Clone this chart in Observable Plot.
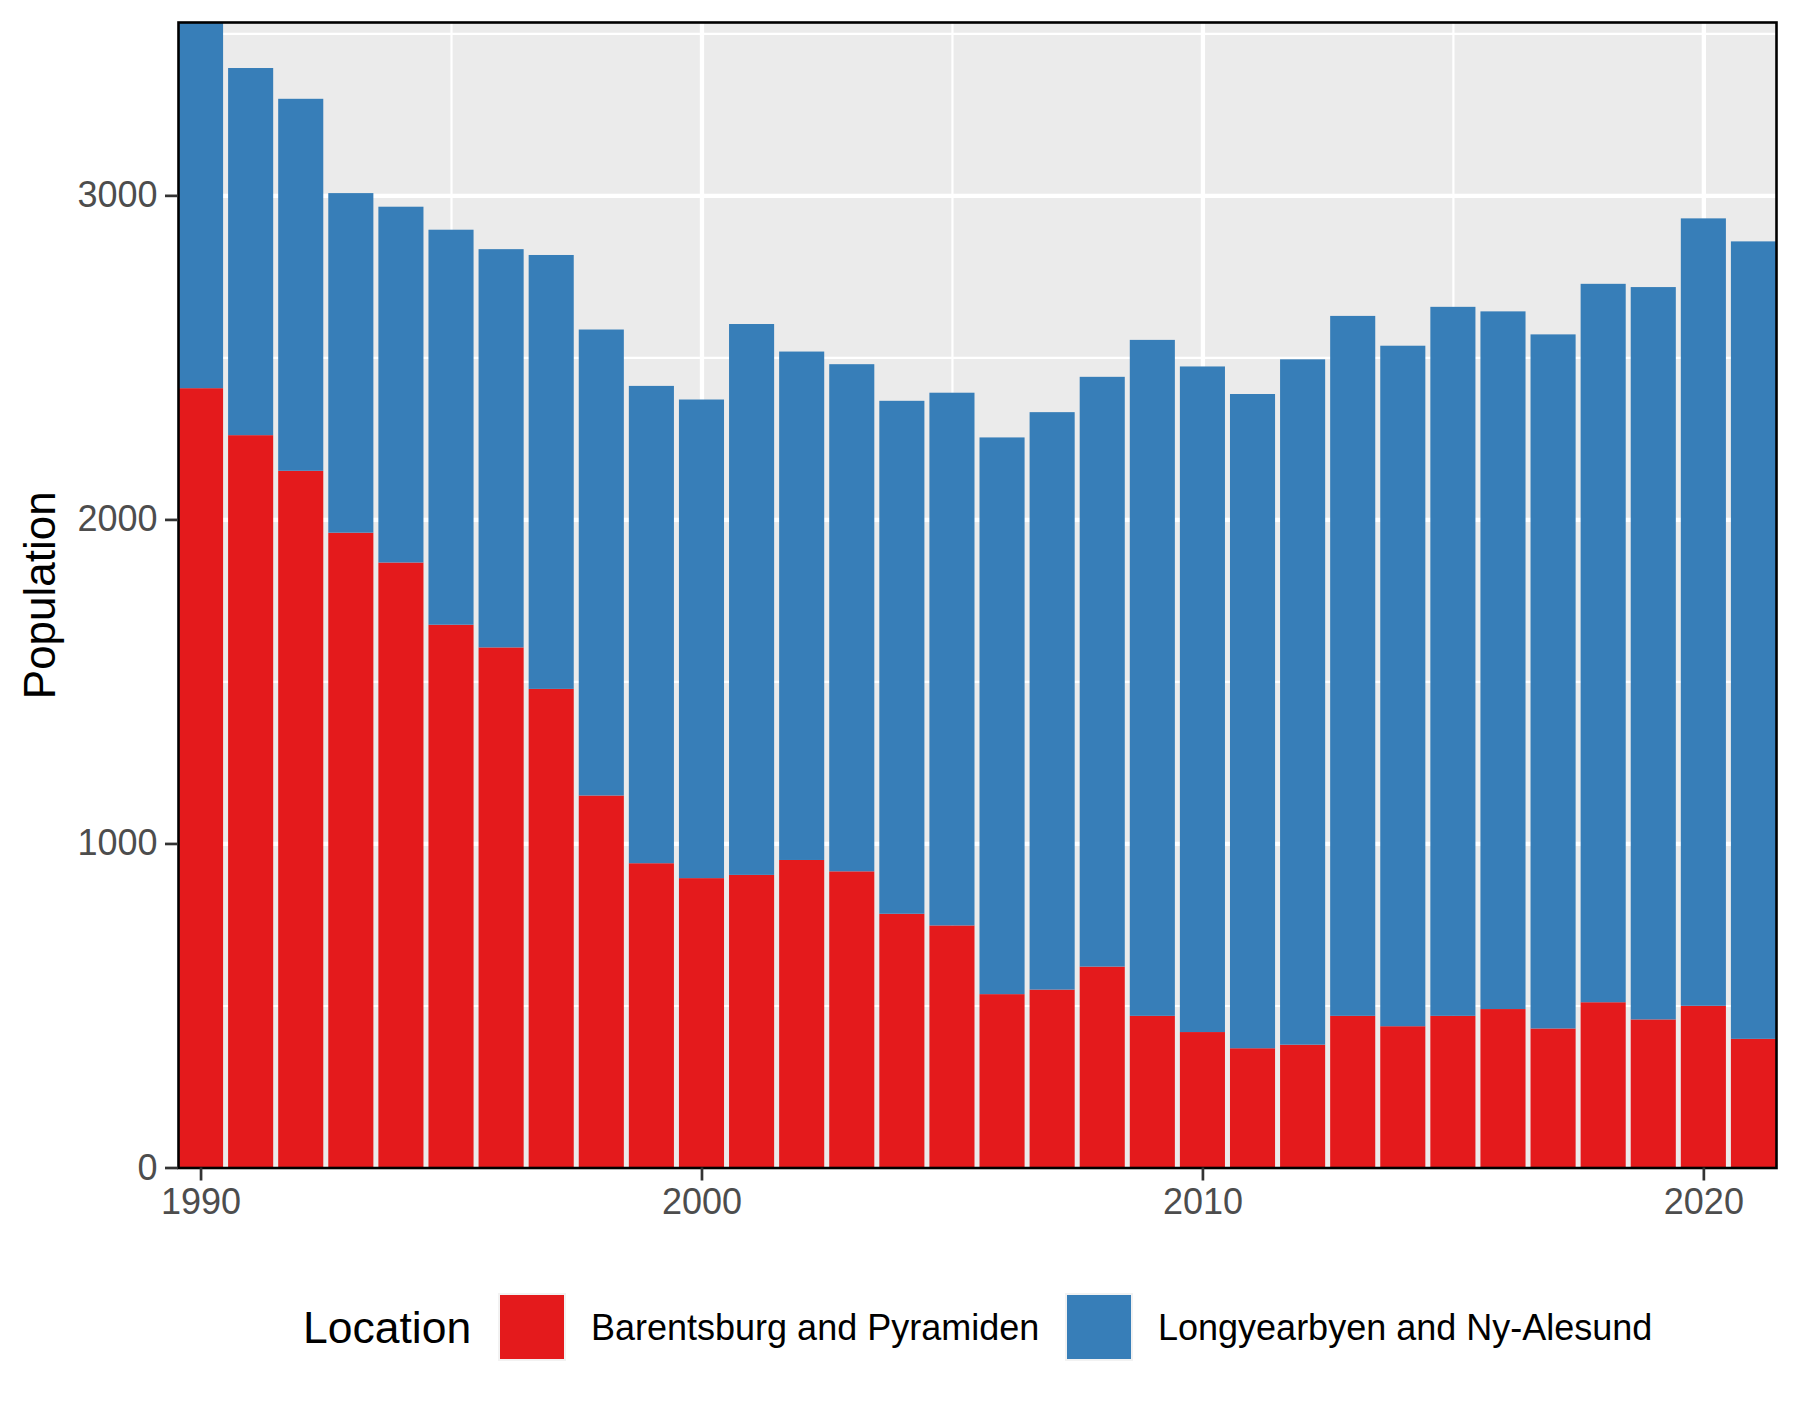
<!DOCTYPE html>
<html>
<head>
<meta charset="utf-8">
<script src="https://cdn.jsdelivr.net/npm/d3@7"></script>
<script src="https://cdn.jsdelivr.net/npm/@observablehq/plot@0.6"></script>
<style>
  body { margin: 0; background: #ffffff; }
  #wrap { width: 1800px; height: 1409px; position: relative; font-family: "Liberation Sans", Arial, sans-serif; }
  svg { display: block; }
</style>
</head>
<body>
<div id="wrap"></div>
<script>
const years = [1990,1991,1992,1993,1994,1995,1996,1997,1998,1999,2000,2001,2002,2003,2004,2005,2006,2007,2008,2009,2010,2011,2012,2013,2014,2015,2016,2017,2018,2019,2020,2021];
const barentsburgPyramiden = [2405,2260,2150,1959,1867,1675,1605,1477,1148,939,893,903,949,914,783,747,535,549,620,468,418,368,379,468,436,468,489,429,510,457,499,397];
const longyearbyenNyAlesund = [1130,1133,1148,1048,1098,1219,1229,1339,1438,1473,1477,1700,1569,1565,1583,1644,1718,1782,1820,2086,2054,2019,2115,2160,2100,2188,2153,2142,2217,2260,2430,2461];
const locations = ["Barentsburg and Pyramiden", "Longyearbyen and Ny-Alesund"];
const colors = ["#E41A1C", "#377EB8"];
const yTicks = [0, 1000, 2000, 3000];
const yMinor = [500, 1500, 2500, 3500];
const xTicks = [1990, 2000, 2010, 2020];
const xMinor = [1995, 2005, 2015];

const data = [];
years.forEach((y, i) => {
  data.push({year: y, loc: locations[0], value: barentsburgPyramiden[i]});
  data.push({year: y, loc: locations[1], value: longyearbyenNyAlesund[i]});
});

const W = 1800, H = 1240;
const chart = Plot.plot({
  width: W,
  height: H,
  marginLeft: 178,
  marginRight: 24,
  marginTop: 22,
  marginBottom: H - 1167.5,
  style: {fontFamily: '"Liberation Sans", Arial, sans-serif', background: "#ffffff", overflow: "visible"},
  x: {domain: [1989.55, 2021.45], axis: null},
  y: {domain: [0, 3535], axis: null},
  color: {domain: locations, range: colors},
  marks: [
    Plot.frame({fill: "#EBEBEB"}),
    Plot.ruleY(yMinor, {stroke: "#ffffff", strokeWidth: 2.2}),
    Plot.ruleX(xMinor, {stroke: "#ffffff", strokeWidth: 2.2}),
    Plot.ruleY(yTicks, {stroke: "#ffffff", strokeWidth: 4.3}),
    Plot.ruleX(xTicks, {stroke: "#ffffff", strokeWidth: 4.3}),
    Plot.rectY(data, {
      x1: d => d.year - 0.45,
      x2: d => d.year + 0.45,
      y: "value",
      fill: "loc",
      order: locations,
      clip: true
    }),
    Plot.frame({stroke: "#000000", strokeWidth: 2.6}),
    Plot.axisY(yTicks, {
      tickSize: 13, tickPadding: 8, fontSize: 36,
      fill: "#4D4D4D", stroke: "#333333", strokeWidth: 2.7,
      label: null, tickFormat: d => String(d)
    }),
    Plot.axisX(xTicks, {
      tickSize: 13, tickPadding: 7, fontSize: 36,
      fill: "#4D4D4D", stroke: "#333333", strokeWidth: 2.7,
      label: null, tickFormat: d => String(d)
    }),
    Plot.text(["Population"], {
      frameAnchor: "left", textAnchor: "middle", dx: -138, rotate: -90,
      fontSize: 44, fill: "#000000"
    })
  ]
});
document.getElementById("wrap").appendChild(chart);

// Legend (below the plot SVG)
const legH = 1409 - H;
const off = H;
const leg = d3.create("svg").attr("width", W).attr("height", legH)
  .style("font-family", '"Liberation Sans", Arial, sans-serif');
leg.append("text").attr("x", 303).attr("y", 1342.5 - off)
  .attr("font-size", 44.5).attr("fill", "#000").text("Location");
const keyX = [498, 1065];
const labX = [591, 1158];
locations.forEach((loc, i) => {
  leg.append("rect").attr("x", keyX[i]).attr("y", 1293 - off).attr("width", 68).attr("height", 68).attr("fill", "#F2F2F2");
  leg.append("rect").attr("x", keyX[i] + 2).attr("y", 1295 - off).attr("width", 64).attr("height", 64).attr("fill", colors[i]);
  leg.append("text").attr("x", labX[i]).attr("y", 1339.5 - off)
    .attr("font-size", 36).attr("fill", "#000").text(loc);
});
document.getElementById("wrap").appendChild(leg.node());
</script>
</body>
</html>
